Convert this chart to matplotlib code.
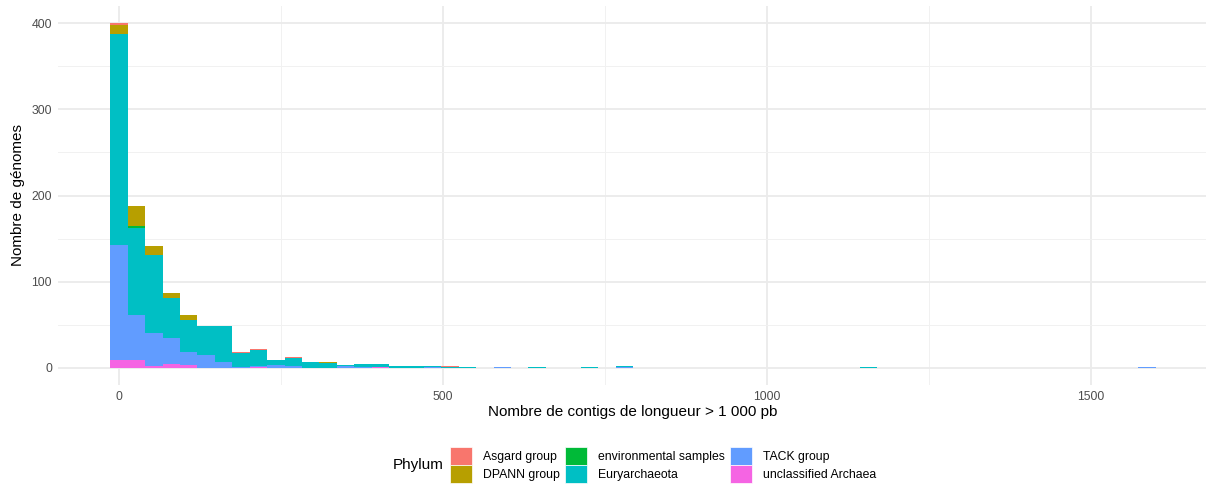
import numpy as np
import matplotlib
matplotlib.use("Agg")
import matplotlib.pyplot as plt
from matplotlib.patches import Patch

plt.rcParams['font.family'] = ['Liberation Sans', 'DejaVu Sans']

# Histogram of archaeal genomes by number of contigs > 1 kb, stacked by phylum
n_bins = 60
bin_width = 26.9  # contigs per bin

phyla = ["Asgard group", "DPANN group", "environmental samples",
         "Euryarchaeota", "TACK group", "unclassified Archaea"]
colors = ["#F8766D", "#B79F00", "#00BA38", "#00BFC4", "#619CFF", "#F564E3"]

def counts(pairs):
    arr = np.zeros(n_bins)
    for b, v in pairs.items():
        arr[b] = v
    return arr

unclassified = counts({0: 9, 1: 9, 2: 2, 3: 4, 4: 3, 8: 1, 15: 1})
tack = counts({0: 134, 1: 52, 2: 38, 3: 31, 4: 15, 5: 15, 6: 7, 7: 1, 8: 1,
               9: 3, 10: 2, 13: 2, 14: 1, 18: 1, 22: 1, 29: 1, 59: 1})
eury = counts({0: 245, 1: 101, 2: 91, 3: 46, 4: 38, 5: 34, 6: 41, 7: 16, 8: 19,
               9: 6, 10: 9, 11: 7, 12: 6, 13: 1, 14: 3, 15: 3, 16: 2, 17: 2,
               18: 1, 19: 1, 20: 1, 24: 1, 27: 1, 29: 1, 43: 1})
environmental = counts({1: 3})
dpann = counts({0: 10, 1: 23, 2: 10, 3: 6, 4: 5, 12: 1})
asgard = counts({0: 2, 6: 1, 7: 1, 8: 1, 10: 1, 19: 1})

series = [asgard, dpann, environmental, eury, tack, unclassified]

x_ticks = [0, 500, 1000, 1500]
y_ticks = [0, 100, 200, 300, 400]

W, H = 1206, 488
fig = plt.figure(figsize=(W / 100, H / 100), dpi=100)
left, right, top, bottom = 58, 1208, 6, 385
ax = fig.add_axes([left / W, 1 - bottom / H, (right - left) / W, (bottom - top) / H])

centers = np.arange(n_bins) * bin_width
base = np.zeros(n_bins)
# first factor level sits on top of the stack, so draw from the last one up
for vals, col in zip(series[::-1], colors[::-1]):
    nz = vals > 0
    ax.bar(centers[nz], vals[nz], width=bin_width, bottom=base[nz], color=col,
           linewidth=0, align='center', zorder=3)
    base = base + vals

lo = -bin_width / 2
hi = (n_bins - 0.5) * bin_width
pad = 0.05 * (hi - lo)
ax.set_xlim(lo - pad, hi + pad)
ax.set_ylim(-20, 420)

ax.set_xticks(x_ticks)
ax.set_xticks([250, 750, 1250], minor=True)
ax.set_yticks(y_ticks)
ax.set_yticks([50, 150, 250, 350], minor=True)
ax.grid(which='major', color='#EBEBEB', linewidth=1.3, zorder=0)
ax.grid(which='minor', color='#F1F1F1', linewidth=0.7, zorder=0)
ax.set_axisbelow(True)
for s in ax.spines.values():
    s.set_visible(False)
ax.tick_params(which='both', length=0)
ax.tick_params(axis='x', labelsize=8.8, labelcolor='#4D4D4D', pad=4)
ax.tick_params(axis='y', labelsize=8.8, labelcolor='#4D4D4D', pad=4.3)

ax.set_xlabel("Nombre de contigs de longueur > 1 000 pb", fontsize=11, va='center')
ax.xaxis.set_label_coords((632.5 - left) / (right - left), -(412 - bottom) / (bottom - top))
ax.set_ylabel("Nombre de génomes", fontsize=11, va='center')
ax.yaxis.set_label_coords((18 - left) / (right - left), 0.5)

handles = [Patch(facecolor=c, edgecolor='white', linewidth=0.5) for c in colors]
fig.legend(handles, phyla, loc='center left', bbox_to_anchor=(450 / W, 1 - 465 / H),
           ncol=3, frameon=False, fontsize=8.8, handlelength=1.8, handleheight=1.8,
           handletextpad=0.9, columnspacing=0.42, labelspacing=0.08,
           borderpad=0, borderaxespad=0)
fig.text(393 / W, 1 - 465 / H, "Phylum", fontsize=11, ha='left', va='center')

fig.savefig("out.png", dpi=100)
